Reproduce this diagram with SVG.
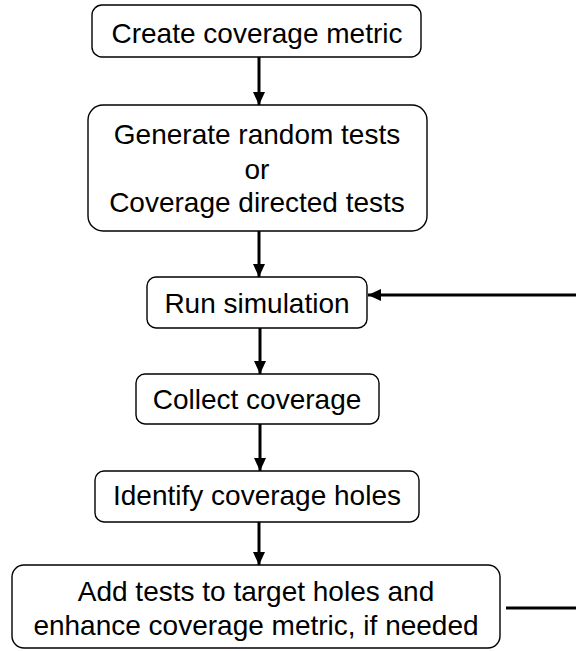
<svg xmlns="http://www.w3.org/2000/svg" width="576" height="651" viewBox="0 0 576 651">
  <style>
    .box { fill: #ffffff; stroke: #000000; stroke-width: 1.4; }
    .lbl { font-family: "Liberation Sans", Arial, sans-serif; font-size: 28px; fill: #000000; text-anchor: middle; }
    .edge { stroke: #000000; stroke-width: 3; fill: none; }
  </style>
  <defs>
    <marker id="head" markerUnits="userSpaceOnUse" markerWidth="14" markerHeight="12" refX="13" refY="6" orient="auto">
      <path d="M0,0 L13,6 L0,12 Z" fill="#000000"/>
    </marker>
  </defs>
  <rect width="576" height="651" fill="#ffffff"/>

  <g id="connectors">
    <line class="edge" x1="259" y1="57" x2="259" y2="105" marker-end="url(#head)"/>
    <line class="edge" x1="259" y1="231" x2="259" y2="277" marker-end="url(#head)"/>
    <line class="edge" x1="260" y1="328" x2="260" y2="374" marker-end="url(#head)"/>
    <line class="edge" x1="260" y1="424" x2="260" y2="471" marker-end="url(#head)"/>
    <line class="edge" x1="259" y1="522" x2="259" y2="565" marker-end="url(#head)"/>
    <line class="edge" x1="576" y1="295" x2="368" y2="295" marker-end="url(#head)"/>
    <line class="edge" x1="506" y1="608" x2="576" y2="608"/>
  </g>

  <g id="create-metric">
    <rect class="box" x="92" y="5" width="329" height="52" rx="10"/>
    <text class="lbl" x="257" y="43">Create coverage metric</text>
  </g>

  <g id="generate-tests">
    <rect class="box" x="88" y="105" width="339" height="126" rx="15"/>
    <text class="lbl" x="257" y="144">Generate random tests</text>
    <text class="lbl" x="257" y="179">or</text>
    <text class="lbl" x="257" y="212">Coverage directed tests</text>
  </g>

  <g id="run-simulation">
    <rect class="box" x="147" y="277" width="220" height="51" rx="9"/>
    <text class="lbl" x="257" y="313">Run simulation</text>
  </g>

  <g id="collect-coverage">
    <rect class="box" x="136" y="374" width="243" height="50" rx="9"/>
    <text class="lbl" x="257" y="409">Collect coverage</text>
  </g>

  <g id="identify-holes">
    <rect class="box" x="95" y="471" width="324" height="51" rx="9"/>
    <text class="lbl" x="257" y="505">Identify coverage holes</text>
  </g>

  <g id="add-tests">
    <rect class="box" x="12" y="565" width="488" height="83" rx="12"/>
    <text class="lbl" x="256" y="601">Add tests to target holes and</text>
    <text class="lbl" x="256" y="635">enhance coverage metric, if needed</text>
  </g>
</svg>
